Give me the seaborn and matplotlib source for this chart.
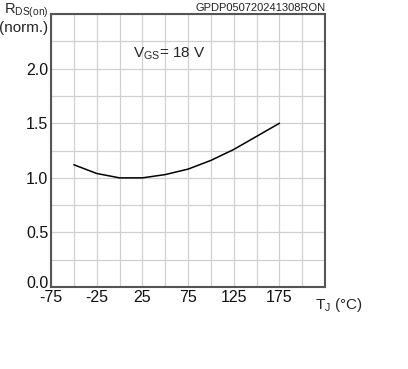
import matplotlib
matplotlib.use("Agg")
import matplotlib.pyplot as plt
import matplotlib.transforms as mtransforms
import seaborn as sns
import pandas as pd

# Datos
temperatura = [-50, -25, 0, 25, 50, 75, 100, 125, 150, 175]
rds_norm = [1.12, 1.04, 1.00, 1.00, 1.03, 1.08, 1.16, 1.26, 1.38, 1.50]
ticks_x = [-75, -25, 25, 75, 125, 175]
ticks_y = [0.0, 0.5, 1.0, 1.5, 2.0]

GRIS_EJE = "#555555"
GRIS_REJILLA = "#d0d0d0"

sns.set_style("white")
plt.rcParams['font.family'] = ['Liberation Sans', 'DejaVu Sans']
plt.rcParams['mathtext.default'] = 'regular'
plt.rcParams['axes.unicode_minus'] = False

datos = pd.DataFrame({"T": temperatura, "R": rds_norm})

figura, ax = plt.subplots(figsize=(4.08, 3.69), dpi=100)
figura.subplots_adjust(left=0.125, right=0.797, top=0.962, bottom=0.222)

sns.lineplot(data=datos, x="T", y="R", color="black", linewidth=1.1, ax=ax)

ax.set_xlim(-75, 225)
ax.set_ylim(0, 2.5)
ax.set_xticks([v for v in range(-75, 226, 25)], minor=True)
ax.set_yticks([v * 0.25 for v in range(11)], minor=True)
ax.set_xticks(ticks_x)
ax.set_yticks(ticks_y)
ax.set_yticklabels([f"{v:.1f}" for v in ticks_y])
ax.grid(which="both", color=GRIS_REJILLA, linewidth=0.9)
ax.set_axisbelow(True)
ax.tick_params(which="both", length=0, labelsize=11.5, colors="#111111", pad=2)
ax.set_xlabel("")
ax.set_ylabel("")

# la etiqueta 0.0 va un poco por encima del eje, como en el original
etiqueta_cero = ax.get_yticklabels()[0]
etiqueta_cero.set_transform(etiqueta_cero.get_transform() +
                            mtransforms.ScaledTranslation(0, 4 / 72, figura.dpi_scale_trans))

for lado in ax.spines.values():
    lado.set_color(GRIS_EJE)
    lado.set_linewidth(1.5)

ax.text(1.0, 1.003, "GPDP050720241308RON", transform=ax.transAxes,
        ha="right", va="bottom", fontsize=8, color="#222222")
ax.text(15, 2.14, r"V$_{GS}$= 18 V", fontsize=11, va="center", ha="left")
ax.text(-0.01, 1.01, r"R$_{DS(on)}$", transform=ax.transAxes,
        ha="right", va="center", fontsize=10.5)
ax.text(-0.01, 0.95, "(norm.)", transform=ax.transAxes,
        ha="right", va="center", fontsize=11)
ax.text(1.05, -0.032, r"T$_{J}$ (°C)", transform=ax.transAxes,
        ha="center", va="top", fontsize=11)

figura.savefig("out.png", dpi=100, facecolor="white")
plt.close(figura)
